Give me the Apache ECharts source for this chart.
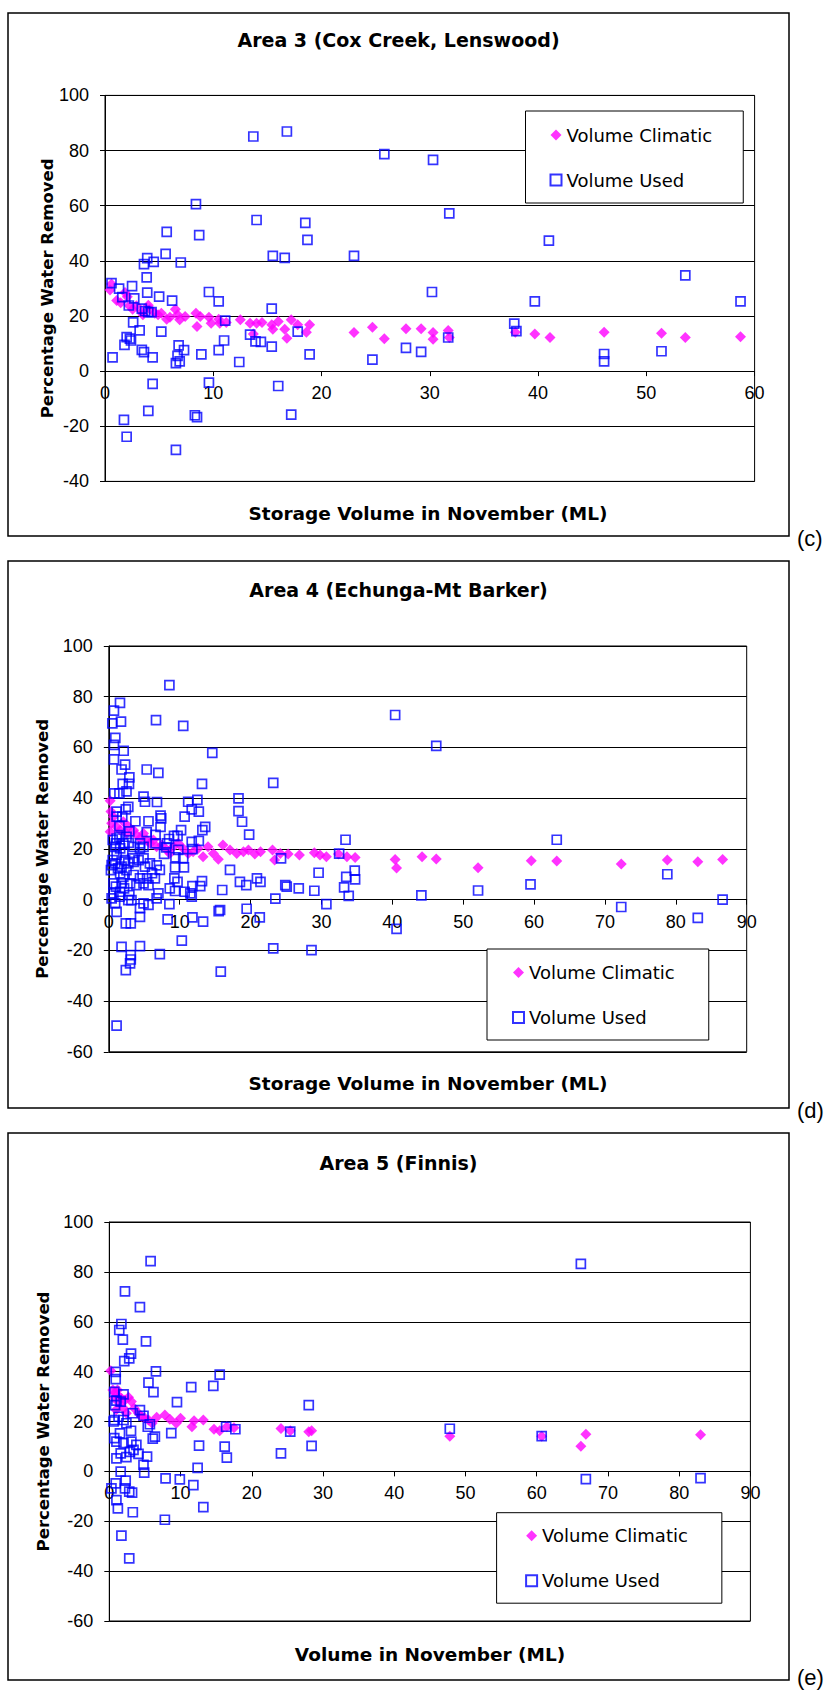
<!DOCTYPE html>
<html>
<head>
<meta charset="utf-8">
<title>Percentage Water Removed vs Storage Volume</title>
<script src="https://cdn.jsdelivr.net/npm/echarts@6.0.0/dist/echarts.min.js"></script>
<style>
  html, body { margin: 0; padding: 0; background: #fff; }
  #chart { width: 824px; height: 1691px; }
</style>
</head>
<body>
<div id="chart"></div>
<script>
// [storage volume (ML), % water removed]
const area3Climatic = [
  [0.46,29.4],[0.6,31.6],[1.08,25.6],[1.45,24.8],[1.85,28.5],[2.06,27.0],[2.25,23.7],[2.55,22.4],[2.9,23.7],
  [3.4,21.6],[3.5,20.4],[4.0,23.9],[4.15,22.4],[4.6,21.0],[4.9,20.4],[5.2,21.0],[5.7,18.8],[6.0,19.5],
  [6.5,22.4],[6.7,20.4],[6.9,18.6],[7.4,19.8],[8.4,21.0],[8.5,16.2],[8.8,19.8],[9.6,19.5],[9.8,17.4],
  [10.5,18.8],[10.6,17.4],[11.2,17.6],[12.5,18.6],[13.4,17.4],[13.7,13.5],[14.0,17.4],[14.5,17.6],[15.4,16.8],
  [15.5,15.2],[16.0,18.0],[16.6,15.2],[16.8,11.9],[17.2,18.6],[17.8,16.8],[18.6,14.1],[18.9,16.8],
  [23.0,14.0],[24.7,15.9],[25.8,11.7],[27.8,15.4],[29.2,15.4],[30.3,14.0],[30.3,11.6],[31.7,14.7],[31.8,12.2],
  [37.9,14.1],[39.7,13.5],[41.1,12.2],[46.1,14.1],[51.4,13.7],[53.6,12.2],[58.7,12.5]
];
const area3Used = [
  [13.7,85.1],[16.8,86.9],[25.8,78.7],[30.3,76.6],[31.8,57.2],[8.4,60.6],[14.0,54.8],[18.5,53.8],[18.7,47.6],
  [5.7,50.5],[8.7,49.3],[5.6,42.5],[15.5,41.8],[16.6,41.1],[23.0,41.8],[3.9,41.0],[3.6,38.8],[4.5,39.6],
  [7.0,39.4],[3.85,34.0],[0.6,31.9],[1.3,29.9],[2.5,30.8],[3.9,28.5],[9.6,28.7],[30.2,28.7],[1.6,26.8],
  [2.7,26.4],[5.0,27.0],[6.2,25.6],[10.5,25.3],[2.2,23.8],[15.4,22.7],[3.4,22.7],[3.7,21.8],[4.0,21.4],
  [4.3,21.4],[11.1,18.3],[2.6,17.7],[3.2,14.8],[5.2,14.3],[17.8,14.3],[13.4,13.2],[2.0,12.3],[2.3,11.8],
  [2.4,11.1],[1.8,9.5],[11.0,11.1],[13.9,10.8],[14.4,10.6],[15.4,8.9],[3.4,7.7],[3.6,6.9],[4.4,5.0],
  [0.7,5.0],[6.8,9.3],[7.3,7.6],[6.7,5.5],[6.55,2.9],[6.9,3.5],[8.9,6.1],[10.5,7.6],[12.4,3.3],[18.9,6.1],
  [24.7,4.2],[27.8,8.4],[29.2,7.0],[31.7,12.2],[4.4,-4.6],[9.6,-4.2],[16.0,-5.4],[4.0,-14.4],[1.75,-17.7],
  [8.3,-16.0],[8.5,-16.7],[17.2,-15.8],[2.0,-23.8],[6.55,-28.6],[41.0,47.3],[37.8,17.2],[38.0,14.5],
  [39.7,25.3],[46.1,6.2],[46.1,3.5],[51.4,7.2],[53.6,34.7],[58.7,25.3]
];

const area4Climatic = [
  [0.2,39.0],[0.3,34.7],[0.2,26.8],[0.4,30.1],[0.65,32.7],[1.1,28.7],[1.6,27.4],[2.05,30.7],[2.5,26.1],
  [2.8,28.7],[3.5,27.4],[3.9,25.5],[4.4,24.1],[4.9,26.1],[5.35,23.5],[5.8,22.2],[6.3,23.5],[6.75,20.8],
  [7.5,21.5],[8.2,19.6],[8.6,18.2],[9.1,20.8],[9.8,22.2],[10.5,20.2],[11.2,18.2],[11.9,18.9],[12.6,20.2],
  [13.3,16.9],[14.0,20.8],[14.75,18.2],[15.45,15.9],[16.1,21.5],[17.1,19.6],[18.05,18.2],[19.0,18.9],
  [19.7,19.6],[20.6,18.0],[21.4,18.9],[23.1,19.6],[23.4,15.6],[24.2,18.2],[25.3,18.0],[26.9,17.6],
  [29.0,18.5],[29.8,17.6],[30.7,16.9],[32.4,18.0],[33.6,16.9],[34.75,16.6],
  [40.4,15.8],[40.6,12.5],[44.2,16.9],[46.2,16.0],[52.1,12.6],[59.6,15.3],[63.2,15.2],[72.3,14.0],
  [78.8,15.6],[83.1,14.9],[86.6,15.8]
];
const area4Used = [
  [8.55,84.6],[1.58,77.6],[0.73,74.5],[0.5,69.5],[1.72,70.2],[6.66,70.8],[10.5,68.5],[0.92,63.8],[0.73,61.0],
  [2.1,58.7],[0.73,55.3],[14.6,57.9],[2.3,53.2],[1.8,51.3],[5.35,51.3],[6.99,50.0],[2.9,48.2],[1.96,45.6],
  [2.85,45.6],[2.5,42.7],[13.15,45.6],[23.2,46.0],[0.78,41.9],[1.5,41.9],[4.9,40.6],[5.1,38.6],[6.8,38.5],
  [11.2,38.6],[12.5,39.3],[18.3,39.9],[11.7,35.6],[12.7,34.7],[18.3,34.9],[18.8,30.7],[19.8,25.6],
  [2.75,36.6],[2.4,35.6],[1.1,34.7],[1.1,32.7],[1.9,32.7],[10.7,32.7],[7.3,33.1],[7.4,32.0],[3.75,30.9],
  [5.6,30.9],[13.6,28.7],[13.2,27.4],[1.5,29.0],[7.3,28.7],[2.9,26.9],[5.35,26.6],[8.5,23.9],[9.2,25.1],
  [9.7,25.1],[10.2,27.4],[6.6,25.5],[33.4,23.6],[1.1,24.1],[2.8,22.4],[12.7,23.2],[11.7,22.8],[6.6,22.2],
  [8.2,22.2],[8.1,20.6],[4.4,20.2],[1.6,20.2],[1.0,22.2],[2.05,18.5],[11.8,19.9],[9.8,19.6],[32.5,18.1],
  [24.3,16.3],[7.8,18.0],[9.4,16.7],[10.5,16.4],[4.9,16.3],[3.5,14.9],[5.8,14.3],[6.75,13.5],[7.2,11.7],
  [9.35,12.7],[10.6,12.7],[17.1,11.7],[29.6,10.6],[34.7,11.4],[33.5,9.0],[34.75,8.0],[20.9,8.4],[21.4,7.0],
  [18.5,7.0],[19.4,5.7],[24.9,5.7],[25.1,5.1],[26.8,4.4],[29.0,3.5],[33.2,4.8],[33.85,1.5],[23.5,0.4],
  [30.7,-1.8],[19.45,-3.6],[15.5,-4.5],[15.7,-4.1],[16.0,3.8],[13.15,7.3],[12.9,5.3],[11.8,5.3],[11.5,2.5],
  [11.7,1.2],[10.7,3.1],[9.35,3.4],[8.6,4.4],[9.7,7.0],[9.25,8.4],[8.55,-1.8],[6.75,0.5],[7.0,2.5],
  [5.6,-2.1],[4.9,-1.5],[4.4,-3.4],[3.2,-0.2],[2.9,1.8],[1.6,3.1],[0.65,2.5],[1.1,-4.8],[4.4,-6.8],
  [2.4,-9.4],[3.1,-9.4],[8.3,-7.8],[11.8,-7.0],[13.3,-8.7],[21.3,-7.0],[10.3,-16.2],[1.8,-18.6],[4.4,-18.3],
  [7.2,-21.5],[3.1,-21.9],[3.1,-23.6],[3.0,-25.1],[2.4,-27.8],[15.8,-28.4],[23.2,-19.2],[28.6,-19.9],[1.1,-49.7],
  [0.3,11.6],[0.4,13.6],[0.55,15.6],[0.9,14.3],[1.1,17.6],[1.3,12.3],[1.6,10.4],[1.8,13.0],[2.05,9.0],
  [2.3,15.6],[2.5,11.6],[2.75,14.3],[3.0,6.4],[3.5,9.7],[3.9,5.7],[4.4,8.4],[4.9,6.4],[5.6,5.7],[1.8,6.4],
  [1.0,5.1],[0.65,6.4],[2.15,4.4],[1.5,1.2],[0.4,0.5],[0.9,-1.5],[2.75,-0.2],[3.4,16.3],[4.2,15.6],
  [5.1,13.0],[6.1,10.4],[6.5,8.4],[5.4,8.4],[0.9,20.8],[0.55,23.5],[1.5,24.8],[2.05,22.2],[2.5,24.8],
  [4.4,22.2],[4.9,20.8],[3.5,20.8],
  [40.4,72.8],[46.2,60.6],[63.2,23.6],[59.5,6.0],[52.1,3.6],[44.1,1.7],[40.6,-11.5],[72.3,-2.9],
  [78.8,10.0],[83.1,-7.2],[86.6,0.0]
];

const area5Climatic = [
  [0.2,40.4],[0.5,32.6],[0.8,31.3],[1.15,32.6],[1.4,29.9],[1.7,29.3],[2.2,28.6],[2.7,29.7],[3.1,28.0],
  [3.5,25.3],[4.1,23.3],[4.5,22.0],[5.0,21.3],[5.5,20.6],[6.0,19.3],[6.65,21.7],[7.8,22.6],[8.5,20.9],
  [9.4,19.3],[10.0,21.3],[11.6,17.9],[11.9,20.3],[13.2,20.6],[14.7,16.9],[15.5,16.3],[16.5,17.9],
  [17.5,17.5],[24.1,17.2],[25.4,16.3],[28.0,15.9],[28.4,16.3],[0.7,29.3],[1.5,27.3],[0.95,24.6],
  [2.0,25.3],[2.4,23.3],[47.8,14.1],[60.7,14.1],[66.2,10.1],[66.9,14.9],[83.0,14.7]
];
const area5Used = [
  [5.8,84.3],[2.2,72.2],[4.3,65.9],[1.7,59.1],[1.4,56.7],[1.9,52.8],[5.15,52.1],[3.05,47.2],[2.8,45.3],
  [2.1,44.2],[0.9,39.9],[6.55,40.1],[15.5,38.8],[0.9,37.0],[5.5,35.6],[11.5,33.8],[14.6,34.3],[6.2,31.8],
  [0.7,31.9],[2.0,30.9],[1.0,28.4],[1.6,28.0],[9.5,27.8],[28.0,26.6],[0.8,26.6],[3.3,23.3],[4.3,24.6],
  [4.8,22.3],[0.7,20.6],[0.6,20.0],[1.3,21.9],[2.0,20.6],[2.4,19.3],[5.7,18.9],[5.4,17.9],[16.4,17.9],
  [17.7,16.9],[25.4,15.9],[8.7,15.3],[3.05,16.3],[6.4,13.9],[6.1,13.1],[0.7,13.3],[1.0,11.9],[1.5,15.2],
  [2.0,11.3],[1.0,5.2],[1.6,7.2],[2.4,5.7],[2.9,7.8],[3.4,8.6],[4.1,7.0],[3.8,10.6],[3.1,11.9],[5.3,5.9],
  [4.8,2.6],[4.9,-0.5],[12.6,10.3],[16.2,9.9],[16.5,5.5],[24.1,7.2],[28.4,10.2],[12.4,1.4],[1.6,-0.1],
  [0.9,-4.8],[0.3,-6.8],[1.0,-11.5],[1.2,-14.8],[2.3,-3.7],[2.2,-6.8],[2.8,-8.1],[3.2,-8.5],[3.3,-16.4],
  [7.9,-2.8],[9.9,-3.2],[11.8,-5.5],[13.2,-14.3],[7.8,-19.4],[1.7,-25.8],[2.8,-34.9],
  [47.8,17.1],[60.7,14.1],[66.2,83.2],[66.9,-3.1],[83.0,-2.7]
];

const seriesNames = ['Volume Climatic', 'Volume Used'];
const titles = ['Area 3 (Cox Creek, Lenswood)', 'Area 4 (Echunga-Mt Barker)', 'Area 5 (Finnis)'];
const xTitles = ['Storage Volume in November (ML)', 'Storage Volume in November (ML)', 'Volume in November (ML)'];
const yTitle = 'Percentage Water Removed';
const panelTags = ['(c)', '(d)', '(e)'];
const xMax = [60, 90, 90];
const yMax = 100;
const yMin = [-40, -60, -60];

// layout of each panel, in page pixels
const panels = [
  { box: [8, 13, 781, 523], grid: [105, 95.4, 649.6, 386], title: 40.6, tag: 538,
    xTitle: [428, 513], yGap: 49, legend: [525.5, 111], pad: [14, 31, 13, 24] },
  { box: [8, 561, 781, 547], grid: [108.8, 646, 637.9, 405.8], title: 590, tag: 1110,
    xTitle: [428, 1083], yGap: 58, legend: [487, 949], pad: [13.5, 34, 12.5, 25] },
  { box: [8, 1133, 781, 547], grid: [109.3, 1222, 641.1, 399], title: 1163, tag: 1677,
    xTitle: [430, 1654], yGap: 57.5, legend: [496.6, 1512.7], pad: [13, 34, 12.5, 28.5] }
];
const climatic = [area3Climatic, area4Climatic, area5Climatic];
const used = [area3Used, area4Used, area5Used];

const tickFont = { fontFamily: 'Liberation Sans', fontSize: 18, color: '#000' };
const black = { color: '#000', width: 1 };

const chart = echarts.init(document.getElementById('chart'), null, { renderer: 'svg' });

const option = {
  backgroundColor: '#fff',
  animation: false,
  title: [], grid: [], xAxis: [], yAxis: [], series: [], legend: [], graphic: []
};

panels.forEach((p, i) => {
  // the x axis sits on the zero line: lift it from the grid bottom by the share of the range below 0
  const zeroLift = p.grid[3] * (0 - yMin[i]) / (yMax - yMin[i]);
  option.title.push({
    text: titles[i], left: 398.5, top: p.title - 10, textAlign: 'center', padding: 0,
    textStyle: { fontFamily: 'DejaVu Sans', fontWeight: 'bold', fontSize: 19, color: '#000' }
  });
  option.grid.push({
    left: p.grid[0], top: p.grid[1], width: p.grid[2], height: p.grid[3],
    show: true, borderColor: '#000', borderWidth: 1, backgroundColor: 'transparent'
  });
  option.xAxis.push({
    gridIndex: i, type: 'value', min: 0, max: xMax[i], interval: 10,
    position: 'bottom', offset: -zeroLift,
    axisLine: { onZero: false, lineStyle: black },
    axisTick: { show: true, length: 5, lineStyle: black },
    axisLabel: Object.assign({ margin: 13, hideOverlap: false }, tickFont),
    splitLine: { show: false }
  });
  option.yAxis.push({
    gridIndex: i, type: 'value', min: yMin[i], max: yMax, interval: 20,
    name: yTitle, nameLocation: 'middle', nameGap: p.yGap, nameMoveOverlap: false,
    nameTextStyle: { fontFamily: 'DejaVu Sans', fontWeight: 'bold', fontSize: 16.5, color: '#000' },
    axisLine: { show: true, onZero: false, lineStyle: black },
    axisTick: { show: true, length: 5, lineStyle: black },
    axisLabel: Object.assign({ margin: 16 }, tickFont),
    splitLine: { show: true, lineStyle: black }
  });
  option.series.push({
    name: seriesNames[0], type: 'scatter', xAxisIndex: i, yAxisIndex: i,
    data: climatic[i], symbol: 'diamond', symbolSize: 11,
    itemStyle: { color: '#ff00ff' }, z: 2
  });
  option.series.push({
    name: seriesNames[1], type: 'scatter', xAxisIndex: i, yAxisIndex: i,
    data: used[i], symbol: 'rect', symbolSize: 9,
    itemStyle: { color: 'rgba(0,0,0,0)', borderColor: '#0000ff', borderWidth: 1.7 }, z: 3
  });
  option.legend.push({
    data: seriesNames, orient: 'vertical', left: p.legend[0], top: p.legend[1],
    padding: p.pad, itemGap: 25, itemWidth: 11, itemHeight: 11,
    backgroundColor: '#fff', borderColor: '#000', borderWidth: 1, z: 10,
    textStyle: { fontFamily: 'DejaVu Sans', fontSize: 18, color: '#000', lineHeight: 20 }
  });
  option.graphic.push({
    type: 'rect', shape: { x: p.box[0], y: p.box[1], width: p.box[2], height: p.box[3] },
    style: { fill: 'none', stroke: '#000', lineWidth: 1.5 }, z: -1, silent: true
  });
  // x-axis title
  option.graphic.push({
    type: 'text', x: p.xTitle[0], y: p.xTitle[1],
    style: { text: xTitles[i], font: 'bold 18.5px "DejaVu Sans"', fill: '#000', align: 'center', verticalAlign: 'middle' },
    silent: true
  });
  option.graphic.push({
    type: 'text', x: 797, y: p.tag,
    style: { text: panelTags[i], font: '22px "Liberation Sans"', fill: '#000', verticalAlign: 'middle' },
    silent: true
  });
});

chart.setOption(option);
</script>
</body>
</html>
